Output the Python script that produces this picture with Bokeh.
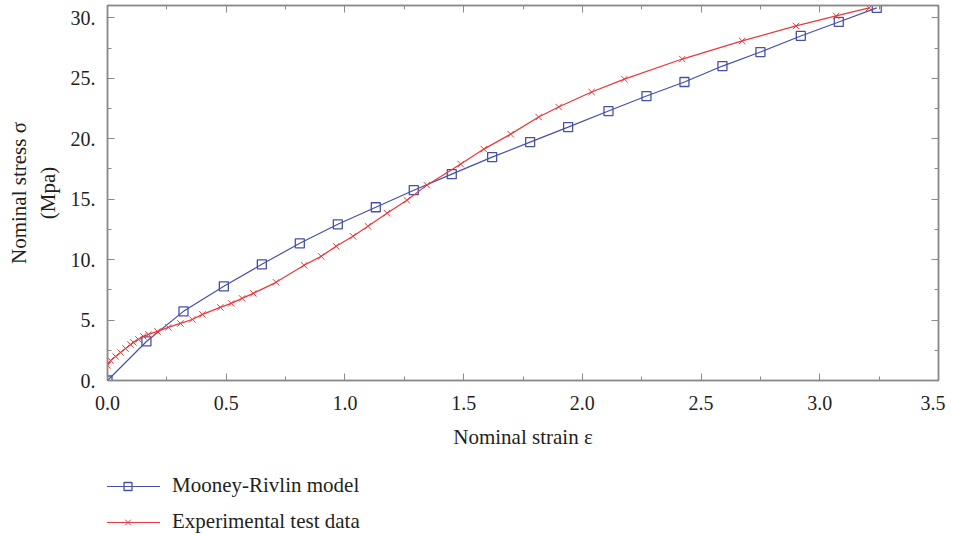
from bokeh.plotting import figure
from bokeh.layouts import column
from bokeh.models import (Range1d, SingleIntervalTicker, LinearAxis, PrintfTickFormatter,
                          Legend, LegendItem)
from bokeh.embed import file_html
from bokeh.resources import INLINE

# Mooney-Rivlin model
mr_strain = [0.0, 0.164, 0.32, 0.49, 0.65, 0.81, 0.97, 1.13, 1.29, 1.45, 1.62, 1.78,
             1.94, 2.11, 2.27, 2.43, 2.59, 2.75, 2.92, 3.08, 3.24]
mr_stress = [0.0, 3.23, 5.72, 7.79, 9.61, 11.35, 12.92, 14.33, 15.74, 17.07, 18.48, 19.72,
             20.96, 22.29, 23.53, 24.69, 26.01, 27.17, 28.50, 29.66, 30.82]

# Experimental test data
ex_strain = [0.0, 0.013, 0.034, 0.055, 0.076, 0.097, 0.109, 0.13, 0.151, 0.172, 0.21, 0.256,
             0.307, 0.357, 0.40, 0.475, 0.521, 0.567, 0.614, 0.71, 0.828, 0.90, 0.963, 1.034,
             1.097, 1.177, 1.261, 1.345, 1.488, 1.585, 1.698, 1.816, 1.90, 2.039, 2.177,
             2.421, 2.673, 2.90, 3.069, 3.208]
ex_stress = [1.25, 1.66, 1.99, 2.32, 2.65, 2.98, 3.15, 3.40, 3.65, 3.81, 4.06, 4.39,
             4.72, 5.05, 5.47, 6.05, 6.38, 6.79, 7.21, 8.12, 9.53, 10.27, 11.10, 11.93,
             12.76, 13.84, 14.91, 16.16, 17.90, 19.14, 20.38, 21.79, 22.62, 23.86, 24.93,
             26.59, 28.09, 29.33, 30.16, 30.82]

legend_labels = ["Mooney-Rivlin model", "Experimental test data"]
x_title = "Nominal strain ε"
y_title = "Nominal stress σ\n(Mpa)"

BLUE = "#4650a8"
RED = "#e8383d"
AXIS = "#8a8a8a"
TXT = "#231f20"
FONT = "Liberation Serif"

p = figure(frame_width=831, frame_height=375, output_backend="svg", toolbar_location=None,
           x_range=Range1d(0, 3.5), y_range=Range1d(0, 31.02),
           min_border_left=107, min_border_right=7, min_border_top=5, min_border_bottom=78,
           x_axis_type=None, y_axis_type=None)
p.grid.visible = False
p.outline_line_color = AXIS
p.outline_line_width = 1.5

xt = SingleIntervalTicker(interval=0.5, num_minor_ticks=2)
yt = SingleIntervalTicker(interval=5, num_minor_ticks=2)

def style(ax, labels=True):
    ax.axis_line_color = AXIS
    ax.axis_line_width = 1.5
    ax.major_tick_line_color = AXIS
    ax.minor_tick_line_color = AXIS
    ax.major_tick_in = 7
    ax.major_tick_out = 0
    ax.minor_tick_in = 4
    ax.minor_tick_out = 0
    ax.major_label_text_font = FONT
    ax.major_label_text_color = TXT
    ax.major_label_text_font_size = "20px"
    ax.axis_label_text_font = FONT
    ax.axis_label_text_color = TXT
    ax.axis_label_text_font_style = "normal"
    ax.axis_label_text_font_size = "21px"
    if not labels:
        ax.major_label_text_color = None
        ax.major_label_text_alpha = 0
        ax.major_label_standoff = 0

xb = LinearAxis(ticker=xt, formatter=PrintfTickFormatter(format="%.1f"))
style(xb)
xb.major_label_standoff = 15
xb.axis_label = x_title
xb.axis_label_standoff = 12
p.add_layout(xb, "below")
xa = LinearAxis(ticker=xt)
style(xa, False)
p.add_layout(xa, "above")
yl = LinearAxis(ticker=yt, formatter=PrintfTickFormatter(format="%d."))
style(yl)
yl.major_label_standoff = 12
yl.axis_label = y_title
yl.axis_label_standoff = 8
p.add_layout(yl, "left")
yr = LinearAxis(ticker=yt)
style(yr, False)
p.add_layout(yr, "right")

p.line(mr_strain, mr_stress, line_color=BLUE, line_width=1.2)
p.scatter(mr_strain, mr_stress, marker="square", size=9, fill_color=None,
          line_color=BLUE, line_width=1.3)
p.line(ex_strain, ex_stress, line_color=RED, line_width=1.2)
p.scatter(ex_strain, ex_stress, marker="x", size=9, line_color=RED, line_width=1.0)

# legend strip below the chart (its renderers lie outside its view; only the legend shows)
lg = figure(width=945, height=76, output_backend="svg", toolbar_location=None,
            x_range=Range1d(100, 101), y_range=Range1d(100, 101),
            min_border=0, x_axis_type=None, y_axis_type=None)
lg.grid.visible = False
lg.outline_line_color = None
bl = lg.line(mr_strain, mr_stress, line_color=BLUE, line_width=1.2)
bs = lg.scatter(mr_strain, mr_stress, marker="square", size=9, fill_color=None,
                line_color=BLUE, line_width=1.3)
rl = lg.line(ex_strain, ex_stress, line_color=RED, line_width=1.2)
rs = lg.scatter(ex_strain, ex_stress, marker="x", size=9, line_color=RED, line_width=1.0)

legend = Legend(items=[LegendItem(label=legend_labels[0], renderers=[bl, bs]),
                       LegendItem(label=legend_labels[1], renderers=[rl, rs])],
                location=(-12, 0), orientation="vertical",
                glyph_width=65, glyph_height=20, label_height=20, spacing=11,
                label_standoff=12, padding=0, margin=0,
                label_text_font=FONT, label_text_font_size="21px", label_text_color=TXT,
                border_line_color=None, background_fill_alpha=0)
lg.add_layout(legend, "center")

open("out.html", "w").write(file_html(column(p, lg, spacing=0), INLINE))
